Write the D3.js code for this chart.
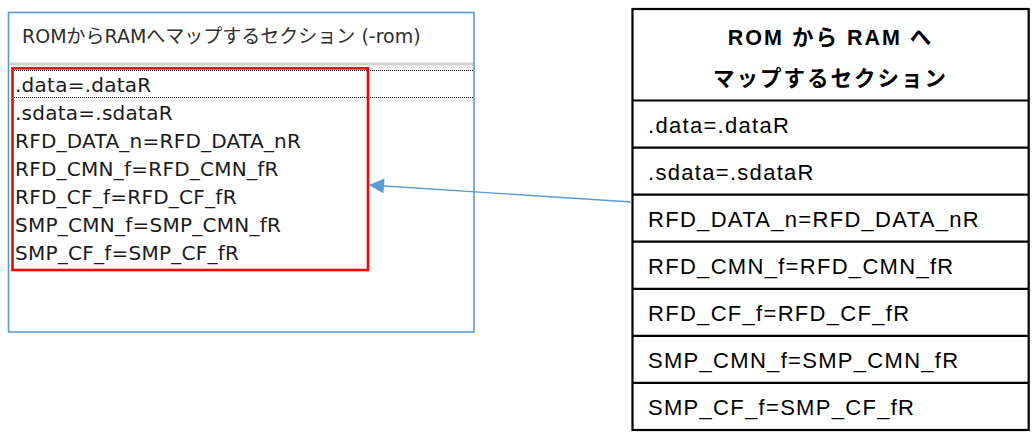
<!DOCTYPE html>
<html><head><meta charset="utf-8">
<script src="https://cdn.jsdelivr.net/npm/d3@7"></script>
<style>html,body{margin:0;padding:0;background:#fff;}svg{display:block;}</style>
</head><body>
<svg id="chart" width="1032" height="439"></svg>
<script>
// ---- data ----
const panelTitle = "ROMからRAMへマップするセクション (-rom)";
const tableHeader = ["ROM から RAM へ", "マップするセクション"];
const sections = [
  ".data=.dataR",
  ".sdata=.sdataR",
  "RFD_DATA_n=RFD_DATA_nR",
  "RFD_CMN_f=RFD_CMN_fR",
  "RFD_CF_f=RFD_CF_fR",
  "SMP_CMN_f=SMP_CMN_fR",
  "SMP_CF_f=SMP_CF_fR"
];
const selectedIndex = 0;

// ---- drawing ----
const svg = d3.select("#chart");
const blue = "#5b9bd5";

// Left panel (list window)
const leftX = d3.scaleLinear().domain([0, 1]).range([8.5, 474]);
const leftY = d3.scaleLinear().domain([0, 1]).range([12.5, 332]);
svg.append("rect")
  .attr("x", leftX(0)).attr("y", leftY(0))
  .attr("width", leftX(1) - leftX(0)).attr("height", leftY(1) - leftY(0))
  .attr("fill", "#fff").attr("stroke", blue).attr("stroke-width", 1.6);

svg.append("text")
  .attr("x", 22).attr("y", 43)
  .attr("font-family", "'DejaVu Sans', 'Noto Sans CJK JP', sans-serif")
  .attr("font-size", 19)
  .attr("fill", "#2e2e2e")
  .text(panelTitle);

svg.append("rect")
  .attr("x", leftX(0) + 1).attr("y", 62.5)
  .attr("width", leftX(1) - leftX(0) - 2).attr("height", 3)
  .attr("fill", "#d0d0d0");

// list rows: band scale on index
const rowBand = d3.scaleBand()
  .domain(d3.range(sections.length))
  .range([70, 70 + 28 * sections.length]);

// focus dotted rect around selected row
[rowBand(selectedIndex), rowBand(selectedIndex) + rowBand.bandwidth() - 1].forEach(y => {
  svg.append("line")
    .attr("x1", 12).attr("x2", 473)
    .attr("y1", y + 0.5).attr("y2", y + 0.5)
    .attr("stroke", "#000").attr("stroke-width", 1)
    .attr("stroke-dasharray", "1,1");
});

svg.append("g").selectAll("text")
  .data(sections)
  .join("text")
  .attr("x", 15)
  .attr("y", (d, i) => rowBand(i) + 21.7)
  .attr("font-family", "'DejaVu Sans', sans-serif")
  .attr("font-size", 20)
  .attr("letter-spacing", 0.25)
  .attr("fill", "#1a1a1a")
  .text(d => d);

// red highlight box
svg.append("rect")
  .attr("x", 12.5).attr("y", 68.3)
  .attr("width", 368 - 12.5).attr("height", 270 - 68.3)
  .attr("fill", "none").attr("stroke", "#ff0000").attr("stroke-width", 2.6);

// Right table
const tX = d3.scaleLinear().domain([0, 1]).range([632.5, 1028.7]);
const headerTop = 9, headerBottom = 100.5, tableBottom = 430;
const tRow = d3.scaleBand()
  .domain(d3.range(sections.length))
  .range([headerBottom, tableBottom]);

svg.append("rect")
  .attr("x", tX(0)).attr("y", headerTop)
  .attr("width", tX(1) - tX(0)).attr("height", tableBottom - headerTop)
  .attr("fill", "#fff").attr("stroke", "#000").attr("stroke-width", 2.2);

svg.append("g").selectAll("line")
  .data(d3.range(sections.length))
  .join("line")
  .attr("x1", tX(0)).attr("x2", tX(1))
  .attr("y1", i => tRow(i)).attr("y2", i => tRow(i))
  .attr("stroke", "#000").attr("stroke-width", 2.2);

svg.append("g").selectAll("text")
  .data(tableHeader)
  .join("text")
  .attr("x", (tX(0) + tX(1)) / 2)
  .attr("y", (d, i) => 45 + i * 41)
  .attr("text-anchor", "middle")
  .attr("font-family", "'Liberation Sans', 'Noto Sans CJK JP', sans-serif")
  .attr("font-weight", "bold")
  .attr("font-size", 21.5)
  .attr("letter-spacing", 2)
  .attr("fill", "#000")
  .text(d => d);

svg.append("g").selectAll("text")
  .data(sections)
  .join("text")
  .attr("x", tX(0) + 15.5)
  .attr("y", (d, i) => tRow(i) + tRow.bandwidth() / 2 + 8.7)
  .attr("font-family", "'Liberation Sans', Arial, sans-serif")
  .attr("font-size", 22)
  .attr("letter-spacing", 1.3)
  .attr("fill", "#000")
  .text(d => d);

// Arrow from table to red box
const defs = svg.append("defs");
defs.append("marker")
  .attr("id", "arrowhead")
  .attr("viewBox", "0 0 10 10")
  .attr("refX", 10).attr("refY", 5)
  .attr("markerUnits", "userSpaceOnUse")
  .attr("markerWidth", 16).attr("markerHeight", 15)
  .attr("orient", "auto")
  .append("path").attr("d", "M0,0 L10,5 L0,10 Z").attr("fill", blue);

svg.append("line")
  .attr("x1", tX(0) - 1).attr("y1", 202)
  .attr("x2", 369).attr("y2", 185)
  .attr("stroke", blue).attr("stroke-width", 1.3)
  .attr("marker-end", "url(#arrowhead)");
</script>
</body></html>
